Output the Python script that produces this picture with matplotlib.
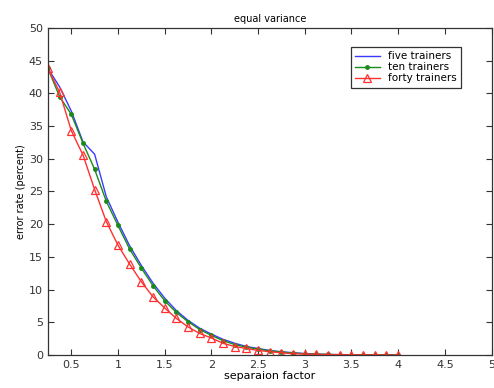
import numpy as np
import matplotlib
matplotlib.use("Agg")
import matplotlib.pyplot as plt

x = [0.25, 0.375, 0.5, 0.625, 0.75, 0.875, 1.0, 1.125, 1.25, 1.375, 1.5, 1.625, 1.75,
     1.875, 2.0, 2.125, 2.25, 2.375, 2.5, 2.625, 2.75, 2.875, 3.0, 3.125, 3.25, 3.375,
     3.5, 3.625, 3.75, 3.875, 4.0]
five = [43.8, 41.0, 37.3, 32.6, 30.7, 24.2, 20.3, 16.7, 13.7, 11.0, 8.7, 6.8, 5.3,
        4.1, 3.2, 2.4, 1.8, 1.3, 1.0, 0.7, 0.5, 0.35, 0.22, 0.14, 0.09, 0.06,
        0.04, 0.02, 0.01, 0.01, 0.0]
ten = [43.8, 39.5, 36.8, 32.4, 28.4, 23.5, 19.8, 16.2, 13.3, 10.6, 8.3, 6.5, 5.1,
       3.9, 3.0, 2.2, 1.6, 1.2, 0.9, 0.65, 0.45, 0.3, 0.2, 0.12, 0.08, 0.05,
       0.03, 0.02, 0.01, 0.01, 0.0]
forty = [43.8, 40.2, 34.3, 30.6, 25.3, 20.4, 16.8, 13.9, 11.2, 8.9, 7.2, 5.6, 4.3,
         3.3, 2.6, 1.8, 1.3, 1.0, 0.7, 0.5, 0.35, 0.2, 0.15, 0.1, 0.06, 0.04,
         0.03, 0.02, 0.01, 0.0, 0.0]

xticks = [0.5, 1, 1.5, 2, 2.5, 3, 3.5, 4, 4.5, 5]
xticklabels = ["0.5", "1", "1.5", "2", "2.5", "3", "3.5", "4", "4.5", "5"]
yticks = [0, 5, 10, 15, 20, 25, 30, 35, 40, 45, 50]

plt.rcParams['font.family'] = ['DejaVu Sans']
fig = plt.figure(figsize=(4.94, 3.88), dpi=100)
ax = fig.add_axes([0.097, 0.085, 0.898, 0.843])

ax.plot(x, five, color='#3b3bff', lw=1.0, label='five trainers')
ax.plot(x, ten, color='#1a8a1a', lw=1.0, marker='o', ms=2.5, label='ten trainers')
ax.plot(x, forty, color='#ff3030', lw=1.0, marker='^', ms=6, mfc='none', mew=0.9,
        label='forty trainers')

ax.set_xlim(0.25, 5)
ax.set_ylim(0, 50)
ax.set_xticks(xticks)
ax.set_xticklabels(xticklabels)
ax.set_yticks(yticks)
ax.tick_params(direction='in', top=True, right=True, labelsize=8, length=4, colors='#333333')
for s in ax.spines.values():
    s.set_color('#333333')
    s.set_linewidth(0.9)
ax.set_title('equal variance', fontsize=7, pad=4)
ax.set_xlabel('separaion factor', fontsize=8, labelpad=1)
ax.set_ylabel('error rate (percent)', fontsize=7, labelpad=2)
leg = ax.legend(loc='upper right', bbox_to_anchor=(0.943, 0.957), fontsize=7.5,
                frameon=True, fancybox=False, edgecolor='#333333', handlelength=2.4,
                borderpad=0.4, labelspacing=0.1, framealpha=1)
leg.get_frame().set_linewidth(0.9)

fig.savefig('out.png', dpi=100)
